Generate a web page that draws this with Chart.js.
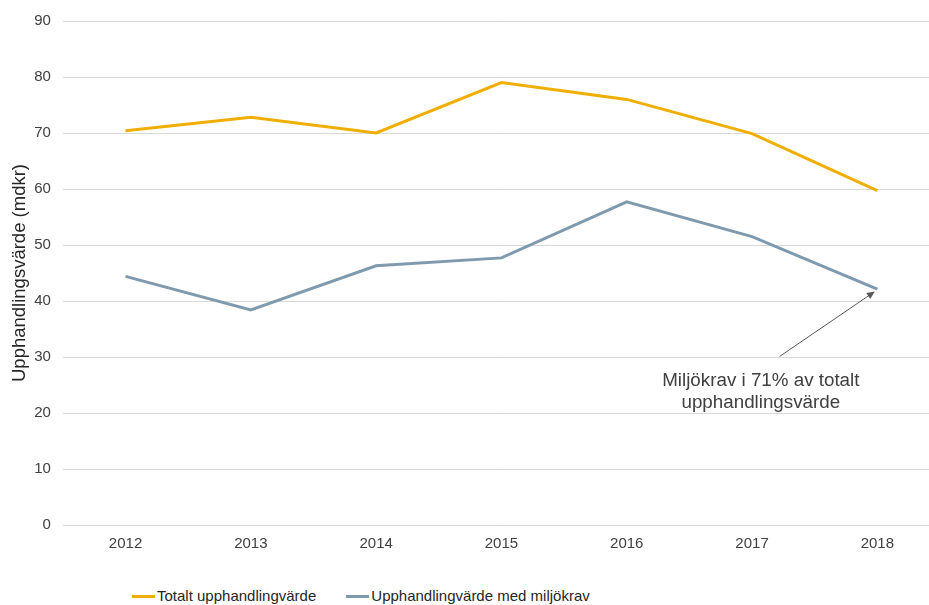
<!DOCTYPE html>
<html>
<head>
<meta charset="utf-8">
<script src="https://cdn.jsdelivr.net/npm/chart.js@4.4.1/dist/chart.umd.min.js"></script>
<style>
    html, body { margin: 0; padding: 0; background: #fff; overflow: hidden; }
    #wrap { position: relative; width: 929px; height: 605px; overflow: hidden; }
    #box { position: absolute; left: 0; top: 0; width: 945px; height: 570px; }
    #legenda { position: absolute; left: 132px; top: 587px; font-family: 'Liberation Sans', Arial, sans-serif;
               font-size: 15px; color: #262626; white-space: nowrap; line-height: 18px; }
    .item { display: inline-block; margin-right: 30px; }
    .linha { display: inline-block; width: 23px; height: 3px; vertical-align: middle; margin-right: 2px; position: relative; top: -1px; }
</style>
</head>
<body>
<div id="wrap">
    <div id="box"><canvas id="grafico"></canvas></div>
    <div id="legenda"></div>
</div>
<script>
// dados
var anos = ["2012", "2013", "2014", "2015", "2016", "2017", "2018"];
var totalt = [70.4, 72.8, 70.0, 79.0, 76.0, 69.9, 59.7];
var miljokrav = [44.4, 38.4, 46.3, 47.7, 57.7, 51.5, 42.1];
var nomeTotalt = "Totalt upphandlingvärde";
var nomeMiljo = "Upphandlingvärde med miljökrav";
var tituloY = "Upphandlingsvärde (mdkr)";
var notaLinhas = ["Miljökrav i 71% av totalt", "upphandlingsvärde"];

var corTotalt = "#EFAE00";
var corMiljo = "#7F9AAD";
var fonte = "'Liberation Sans', Arial, sans-serif";

// anotação com seta (posição em unidades dos eixos)
var anotacao = {
    id: 'anotacao',
    afterDatasetsDraw(chart) {
        const ctx = chart.ctx;
        const x = chart.scales.x, y = chart.scales.y;
        const x0 = x.getPixelForValue(5.22), y0 = y.getPixelForValue(30.1);
        const x1 = x.getPixelForValue(5.98), y1 = y.getPixelForValue(41.7);
        ctx.save();
        ctx.strokeStyle = "#595959";
        ctx.fillStyle = "#595959";
        ctx.lineWidth = 1;
        const ang = Math.atan2(y1 - y0, x1 - x0);
        ctx.beginPath();
        ctx.moveTo(x0, y0);
        ctx.lineTo(x1 - 7 * Math.cos(ang), y1 - 7 * Math.sin(ang));
        ctx.stroke();
        ctx.beginPath();
        ctx.moveTo(x1, y1);
        ctx.lineTo(x1 - 8 * Math.cos(ang) + 3.5 * Math.sin(ang), y1 - 8 * Math.sin(ang) - 3.5 * Math.cos(ang));
        ctx.lineTo(x1 - 8 * Math.cos(ang) - 3.5 * Math.sin(ang), y1 - 8 * Math.sin(ang) + 3.5 * Math.cos(ang));
        ctx.closePath();
        ctx.fill();
        ctx.fillStyle = "#404040";
        ctx.font = "18.8px " + fonte;
        ctx.textAlign = "center";
        ctx.textBaseline = "middle";
        const xt = x.getPixelForValue(5.07);
        ctx.fillText(notaLinhas[0], xt, y.getPixelForValue(25.8));
        ctx.fillText(notaLinhas[1], xt, y.getPixelForValue(21.9));
        ctx.restore();
    }
};

var ctx1 = document.getElementById("grafico").getContext("2d");
var grafico = new Chart(ctx1, {
    type: 'line',
    data: {
        labels: anos,
        datasets: [{
            label: nomeTotalt,
            data: totalt,
            borderColor: corTotalt,
            backgroundColor: corTotalt,
            borderWidth: 3,
            pointRadius: 0,
            tension: 0
        }, {
            label: nomeMiljo,
            data: miljokrav,
            borderColor: corMiljo,
            backgroundColor: corMiljo,
            borderWidth: 3,
            pointRadius: 0,
            tension: 0
        }]
    },
    options: {
        responsive: true,
        maintainAspectRatio: false,
        animation: false,
        layout: { padding: { left: 9, top: 17, right: 5, bottom: 15 } },
        scales: {
            x: {
                offset: true,
                grid: { display: false },
                border: { display: false },
                ticks: { color: "#404040", font: { size: 15, family: fonte }, padding: 2, maxRotation: 0 }
            },
            y: {
                min: 0,
                max: 90,
                grid: { color: "#D9D9D9", lineWidth: 1, drawTicks: false },
                border: { display: false },
                ticks: { stepSize: 10, color: "#404040", font: { size: 15, family: fonte }, padding: 12 },
                title: {
                    display: true,
                    text: tituloY,
                    color: "#262626",
                    font: { size: 18.5, family: fonte, weight: 'normal' },
                    padding: { top: 0, bottom: -9 }
                }
            }
        },
        plugins: {
            legend: { display: false },
            tooltip: { enabled: false }
        }
    },
    plugins: [anotacao]
});

// legenda em HTML
var legenda = document.getElementById("legenda");
grafico.data.datasets.forEach(function (ds) {
    var item = document.createElement("span");
    item.className = "item";
    var linha = document.createElement("span");
    linha.className = "linha";
    linha.style.background = ds.borderColor;
    item.appendChild(linha);
    item.appendChild(document.createTextNode(ds.label));
    legenda.appendChild(item);
});
</script>
</body>
</html>
